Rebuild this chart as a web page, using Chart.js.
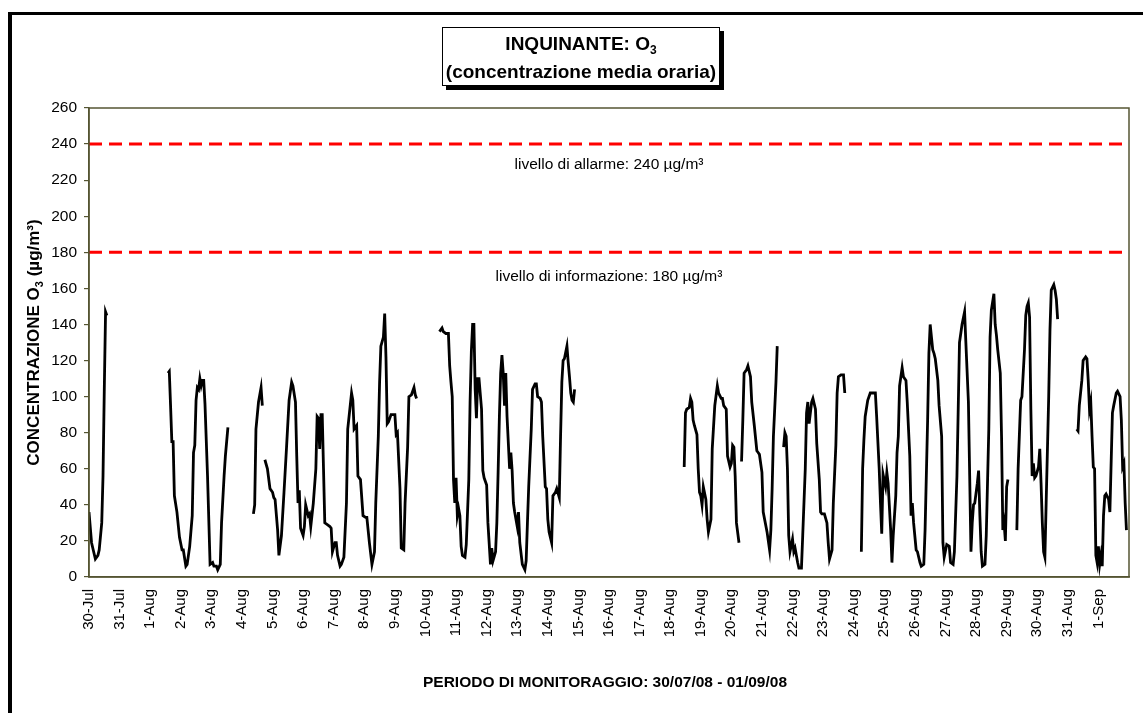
<!DOCTYPE html>
<html>
<head>
<meta charset="utf-8">
<title>Inquinante O3</title>
<script src="https://cdn.jsdelivr.net/npm/chart.js@4.4.1/dist/chart.umd.min.js"></script>
<style>
  html, body { margin: 0; padding: 0; background: #fff; overflow: hidden; }
  #wrap { position: relative; width: 1143px; height: 713px; }
</style>
</head>
<body>
<div id="wrap"><canvas id="chart"></canvas></div>
<script>
// hours counted from 30/07/08 00:00, one tick label per day
const dayLabels = ['30-Jul','31-Jul','1-Aug','2-Aug','3-Aug','4-Aug','5-Aug','6-Aug','7-Aug','8-Aug',
  '9-Aug','10-Aug','11-Aug','12-Aug','13-Aug','14-Aug','15-Aug','16-Aug','17-Aug','18-Aug','19-Aug',
  '20-Aug','21-Aug','22-Aug','23-Aug','24-Aug','25-Aug','26-Aug','27-Aug','28-Aug','29-Aug','30-Aug',
  '31-Aug','1-Sep'];
const hourCount = 816;

const alarmLevel = 240;
const infoLevel = 180;

// hourly O3 readings (µg/m³); null = missing data
const obsHour = [
  0,2,5,7,8,10,11,12,13,14, 30,
  62,63,64,65,66,67,69,71,73,74,76,77,79,81,82,83,84,85,86,87,88,89,90,91,93,95,97,98,100,101,103,104,106,107,109, 118,
  129,130,131,133,135,136, 137,
  138,140,142,144,145,146,148,149,151,153,155,157,159,160,162,163,164,165,166,168,169,170,172,173,174,176,178,179,180,181,182,183,184,185,187,189,190,191,193,194,195,197,198,200,
  202,203,206,207,208,210,211,213,215,217,218,220,222,224,225,227,228,229,231,232,233,234,235,237,240,241,242,244,245,247,248,250,251,253,255,256,257, 266,
  275,277,278,280,282,283,284,285,286,287,288,289,290,291,292,293,295,296,298,299,300,301,302,303,304,305,306,308,309,310,312,313,315,316,317,319,320,321,322,323,324,325,326,327,328,330,331,332,333,334,336,337,338,340,342,343,344,345,347,348,350,351,352,354,355,356,358,359,360,361,363,364,366,367,369,370,371,372,373,375,376,377,378,379,380,381, 420,
  467,468,469,471,472,473,474,475,477,478,479,480,481,482,484,485,486,488,489,491,493,494,496,497,498,500,501,503,504,505,506,507,508,510, 511,
  512,513,514,516,517,519,520,522,524,525,526,528,529,532,534,535,536,537,539,540, 542,
  545,546,547,548,549,550,552,553,554,556,557,559,560,562,563,564,565,567,568,570,571,573,574,575,577,579,580,581,583,584,586,587,588,590,592,593, 600,
  606,607,608,609,611,613,615,617,618,620,621,622,623,625,626,627,629,630,631,633,634,635,636,638,639,641,642,644,645,646,647,649,650,652,653,655,656,658,659,660,662,663,664,666,667,669,670,671,673,675,676,678,679,681,682,683,685,687,688,690,691,692,693,694,695,697,698,699,700,701,703,704,706,707,708,710,711,712,713,715,716,717,718,719,720,721, 724,
  728,729,731,732,734,735,736,737,738,739,740,741,742,743,745,746,747,748,749,750,751,753,754,755,757,758,759,760, 767,
  775,776,777,779,780,782,783,784,785,786,787,788,789,790,791,792,793,794,795,796,797,798,800,801,803,804,806,807,809,810,811,812,813,814
];
const obsValue = [
  36,19,10,12,15,30,56,104,147,145, null,
  113,114,95,75,75,45,36,22,15,15,6,7,17,34,69,73,98,105,104,110,106,109,109,96,56,7,8,6,6,4,7,30,56,67,83, null,
  35,40,82,97,105,95, null,
  65,60,49,47,44,43,26,12,23,47,72,98,108,106,97,67,41,48,27,23,28,40,34,35,28,41,60,89,88,71,90,90,60,30,29,28,27,14,19,19,12,6,7,11,
  41,82,102,98,82,84,56,54,34,33,33,19,7,14,41,78,108,128,133,146,122,85,86,90,90,79,80,49,16,15,41,72,100,101,105,101,99, null,
  136,138,136,135,135,117,108,100,54,41,55,34,38,34,17,12,11,18,54,97,125,140,140,104,88,110,110,93,59,55,51,30,7,16,9,14,30,58,89,113,123,113,95,113,89,60,69,59,41,36,28,36,19,7,4,9,30,50,82,104,107,107,100,99,97,78,50,49,32,25,19,45,47,49,44,78,108,120,121,128,119,111,102,98,97,104, null,
  61,91,93,94,99,97,87,84,79,60,47,45,40,50,43,32,25,32,71,95,106,102,99,99,95,93,67,61,63,73,72,56,30,19, null,
  64,87,113,115,117,111,97,84,70,69,68,58,36,25,15,26,49,78,108,128, null,
  72,80,78,60,23,14,21,14,16,8,5,5,23,60,91,97,85,97,99,93,74,54,36,35,35,30,19,10,15,41,73,102,111,112,112,102, null,
  14,60,76,89,98,102,102,102,89,60,41,24,57,50,58,52,26,8,23,45,69,78,106,116,111,109,97,67,34,41,30,15,14,8,6,7,26,87,124,140,126,124,121,109,95,78,19,11,18,17,8,7,14,56,93,130,140,147,130,97,56,14,30,40,41,52,59,34,14,6,7,23,82,133,148,157,140,134,126,113,78,26,30,20,50,54, null,
  26,60,98,100,126,145,150,152,144,93,56,63,55,56,61,71,52,30,14,11,41,100,137,159,162,159,154,143, null,
  82,81,95,109,120,122,121,109,93,97,78,61,60,12,8,17,7,12,6,34,45,46,43,36,91,95,102,103,100,87,61,63,41,26
];

const font = '"Liberation Sans", Arial, sans-serif';
const axisColor = '#555533';

function drawParts(ctx, parts, x, y, align) {
  let total = 0;
  parts.forEach(p => { ctx.font = p.font; p.w = ctx.measureText(p.text).width; total += p.w; });
  let cx = align === 'center' ? x - total / 2 : x;
  parts.forEach(p => {
    ctx.font = p.font;
    ctx.fillText(p.text, cx, y + (p.dy || 0));
    cx += p.w;
  });
}

const decorations = {
  id: 'decorations',
  beforeDraw(chart) {
    const ctx = chart.ctx;
    ctx.save();
    ctx.fillStyle = '#fff';
    ctx.fillRect(0, 0, chart.width, chart.height);
    ctx.fillStyle = '#000';
    ctx.fillRect(8, 12, chart.width, 3);
    ctx.fillRect(8, 12, 4, chart.height);
    ctx.restore();
  },
  afterDraw(chart) {
    const { ctx, chartArea: a, scales: { y } } = chart;
    ctx.save();
    ctx.strokeStyle = axisColor;
    ctx.lineWidth = 1.5;
    ctx.strokeRect(a.left, a.top, a.right - a.left, a.bottom - a.top);

    // title box with shadow
    ctx.fillStyle = '#000';
    ctx.fillRect(446, 31, 278, 59);
    ctx.fillStyle = '#fff';
    ctx.fillRect(442, 27, 278, 59);
    ctx.strokeStyle = '#000';
    ctx.lineWidth = 1;
    ctx.strokeRect(442.5, 27.5, 277, 58);
    ctx.fillStyle = '#000';
    ctx.textBaseline = 'alphabetic';
    ctx.textAlign = 'left';
    drawParts(ctx, [
      { text: 'INQUINANTE: O', font: 'bold 19px ' + font },
      { text: '3', font: 'bold 12px ' + font, dy: 4 }
    ], 581, 49.5, 'center');
    drawParts(ctx, [{ text: '(concentrazione media oraria)', font: 'bold 19px ' + font }], 581, 78, 'center');

    // threshold notes
    const midX = (a.left + a.right) / 2;
    drawParts(ctx, [{ text: 'livello di allarme: 240 µg/m³', font: '15.5px ' + font }], midX, y.getPixelForValue(alarmLevel) + 25, 'center');
    drawParts(ctx, [{ text: 'livello di informazione: 180 µg/m³', font: '15.5px ' + font }], midX, y.getPixelForValue(infoLevel) + 29, 'center');

    // x axis title
    drawParts(ctx, [{ text: 'PERIODO DI MONITORAGGIO: 30/07/08 - 01/09/08', font: 'bold 15.5px ' + font }], 605, 686.5, 'center');

    // y axis title
    ctx.translate(39, (a.top + a.bottom) / 2);
    ctx.rotate(-Math.PI / 2);
    drawParts(ctx, [
      { text: 'CONCENTRAZIONE O', font: 'bold 17px ' + font },
      { text: '3', font: 'bold 11px ' + font, dy: 4 },
      { text: ' (µg/m³)', font: 'bold 17px ' + font }
    ], 0, 0, 'center');
    ctx.restore();
  }
};

const ctx = document.getElementById('chart').getContext('2d');
const chart = new Chart(ctx, {
  type: 'line',
  data: {
    datasets: [
      {
        label: 'O3',
        data: obsHour.map((h, i) => ({ x: h, y: obsValue[i] })),
        borderColor: '#000',
        borderWidth: 2.8,
        pointRadius: 0,
        tension: 0,
        spanGaps: false
      },
      {
        label: 'allarme',
        data: [{ x: 0, y: alarmLevel }, { x: hourCount, y: alarmLevel }],
        borderColor: '#ff0000',
        borderWidth: 3,
        borderDash: [13, 7],
        pointRadius: 0
      },
      {
        label: 'informazione',
        data: [{ x: 0, y: infoLevel }, { x: hourCount, y: infoLevel }],
        borderColor: '#ff0000',
        borderWidth: 3,
        borderDash: [13, 7],
        pointRadius: 0
      }
    ]
  },
  options: {
    responsive: true,
    maintainAspectRatio: false,
    animation: false,
    layout: { padding: { left: 0, top: 108, right: 14, bottom: 0 } },
    plugins: { legend: { display: false }, tooltip: { enabled: false } },
    scales: {
      x: {
        type: 'linear',
        min: 0,
        max: hourCount,
        afterFit: s => { s.height = 136; },
        afterBuildTicks: s => { s.ticks = dayLabels.map((l, i) => ({ value: i * 24 })); },
        grid: { display: false, drawTicks: false },
        border: { display: true, color: axisColor, width: 1.5 },
        ticks: {
          autoSkip: false,
          maxRotation: 90,
          minRotation: 90,
          padding: 12,
          color: '#000',
          font: { family: font, size: 15 },
          callback: v => dayLabels[Math.round(v / 24)] ?? ''
        }
      },
      y: {
        min: 0,
        max: 260,
        afterFit: s => { s.width = 89; },
        grid: { drawOnChartArea: false, drawTicks: true, tickLength: 5, color: axisColor, lineWidth: 1.2 },
        border: { display: true, color: axisColor, width: 1.5 },
        ticks: {
          stepSize: 20,
          padding: 7,
          color: '#000',
          font: { family: font, size: 15.5 }
        }
      }
    }
  },
  plugins: [decorations]
});
</script>
</body>
</html>
